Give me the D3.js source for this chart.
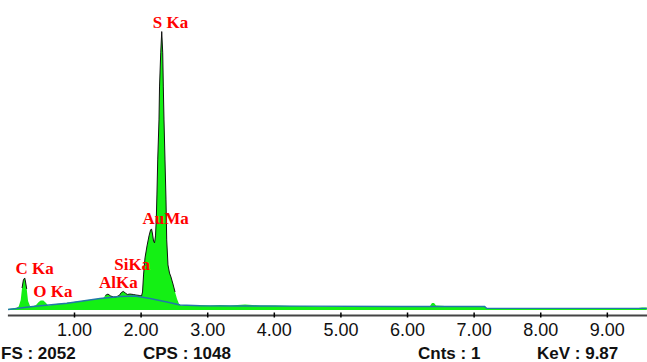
<!DOCTYPE html>
<html>
<head>
<meta charset="utf-8">
<script src="https://cdn.jsdelivr.net/npm/d3@7"></script>
<style>
  html, body { margin: 0; padding: 0; background: #fff; }
  svg { display: block; }
  .tick text { font-family: "Liberation Sans", Arial, sans-serif; }
</style>
</head>
<body>
<div id="chart"></div>
<script>
// EDS spectrum: energy (keV) and counts
const specEnergy = [0.01,0.07,0.13,0.17,0.20,0.22,0.24,0.26,0.27,0.29,
  0.31,0.34,0.38,0.43,0.47,0.50,0.54,0.58,0.61,0.67,
  0.73,0.79,0.85,0.91,0.97,1.03,1.09,1.15,1.21,1.27,
  1.33,1.39,1.44,1.47,1.51,1.55,1.59,1.63,1.68,1.71,
  1.74,1.77,1.80,1.84,1.89,1.93,1.98,2.014,2.029,2.044,
  2.066,2.096,2.126,2.149,2.164,2.179,2.194,2.209,2.224,2.236,
  2.245,2.257,2.276,2.284,2.302,2.317,2.332,2.341,2.351,2.366,
  2.381,2.392,2.411,2.434,2.456,2.486,2.517,2.547,2.577,2.607,
  2.667,2.742,2.892,3.042,3.192,3.342,3.568,3.793,4.018,4.243,
  4.468,4.694,4.919,5.144,5.369,5.595,5.820,6.045,6.270,6.345,
  6.375,6.405,6.435,6.57,6.795,7.020,7.171,7.20,7.697,8.297,
  8.898,9.42,9.53,9.60];
const specCounts = [7,11,15,25,73,160,218,233,211,153,
  66,29,25,36,58,69,69,51,33,36,
  44,47,47,55,55,62,62,69,73,76,
  80,84,87,106,116,102,95,95,106,127,
  135,124,113,116,113,109,106,102,131,255,
  379,466,539,582,590,553,502,488,539,670,
  837,1092,1383,1623,1871,2026,1871,1623,1383,1092,
  801,510,328,269,240,189,131,80,44,33,
  36,33,36,33,36,33,40,33,33,29,
  29,25,25,25,22,22,25,29,29,29,
  51,51,33,29,29,29,25,11,11,11,
  11,11,18,18];

// background (continuum) curve
const bgEnergy = [0.01,0.384,0.895,1.39,1.69,1.916,2.141,2.396,2.592,2.892,4.393,5.895,7.165,7.195,9.60];
const bgCounts = [4,25,49,84,98,102,84,58,36,31,28,25,25,12,12];

// peak labels
const peakNames = ['C Ka', 'O Ka', 'AlKa', 'SiKa', 'AuMa', 'S Ka'];
const peakEnergy = [0.257, 0.525, 1.51, 1.739, 2.164, 2.317];

const tickValues = [1, 2, 3, 4, 5, 6, 7, 8, 9];
const fullScale = 2052;
const status = ['FS : 2052', 'CPS : 1048', 'Cnts : 1', 'KeV : 9.87'];

const width = 647;
const height = 362;
const axisY = 315;

const svg = d3.select('#chart')
              .append('svg')
              .attr('width', width)
              .attr('height', height);

svg.append('rect')
   .attr('width', width)
   .attr('height', height)
   .attr('fill', '#fff');

const x = d3.scaleLinear()
            .domain([0, 9.6])
            .range([7.4, 646.8]);
const y = d3.scaleLinear()
            .domain([0, fullScale])
            .range([310, 28]);

const spec = specEnergy.map((e, i) => ({ e: e, c: specCounts[i] }));
const bg = bgEnergy.map((e, i) => ({ e: e, c: bgCounts[i] }));

// green filled spectrum
const area = d3.area()
               .x((d) => x(d.e))
               .y0(y(0))
               .y1((d) => y(d.c));
svg.append('path')
   .attr('d', area(spec))
   .attr('fill', '#14f014');

// dark outline on the peaks
const outline = d3.line()
                  .defined((d) => d.c >= 90)
                  .x((d) => x(d.e))
                  .y((d) => y(d.c));
svg.append('path')
   .attr('d', outline(spec))
   .attr('fill', 'none')
   .attr('stroke', '#111')
   .attr('stroke-width', 1);

// continuum line
const bgLine = d3.line()
                 .x((d) => x(d.e))
                 .y((d) => y(d.c));
svg.append('path')
   .attr('d', bgLine(bg))
   .attr('fill', 'none')
   .attr('stroke', '#2277aa')
   .attr('stroke-width', 1.4);

// X axis
const xAxis = d3.axisBottom(x)
                .tickValues(tickValues)
                .tickFormat(d3.format('.2f'))
                .tickSizeOuter(0)
                .tickSizeInner(2.5);
const ax = svg.append('g')
              .attr('transform', `translate(0, ${axisY})`)
              .call(xAxis);
ax.select('.domain')
  .attr('stroke', '#444')
  .attr('stroke-width', 2);
ax.selectAll('.tick line')
  .attr('y1', -2.5)
  .attr('stroke', '#000')
  .attr('stroke-width', 1.5);
ax.selectAll('.tick text')
  .attr('y', 8)
  .attr('font-size', 18)
  .attr('fill', '#111');

// peak labels
const labelLift = [4, 4, 6, 21, 5, 4];
svg.selectAll('.peak')
   .data(peakNames)
   .enter()
   .append('text')
   .attr('class', 'peak')
   .attr('x', (d, i) => x(peakEnergy[i]) - 9)
   .attr('y', (d, i) => {
     const j = d3.minIndex(specEnergy, (e) => Math.abs(e - peakEnergy[i]));
     return y(specCounts[j]) - labelLift[i];
   })
   .attr('font-family', '"Liberation Serif", "Times New Roman", serif')
   .attr('font-weight', 'bold')
   .attr('font-size', 17)
   .attr('fill', '#ff0000')
   .text((d) => d);

// status line
const statusX = [1, 143, 418, 537];
svg.selectAll('.status')
   .data(status)
   .enter()
   .append('text')
   .attr('class', 'status')
   .attr('x', (d, i) => statusX[i])
   .attr('y', 359)
   .attr('font-family', '"Liberation Sans", Arial, sans-serif')
   .attr('font-weight', 'bold')
   .attr('font-size', 17)
   .attr('fill', '#111')
   .text((d) => d);
</script>
</body>
</html>
